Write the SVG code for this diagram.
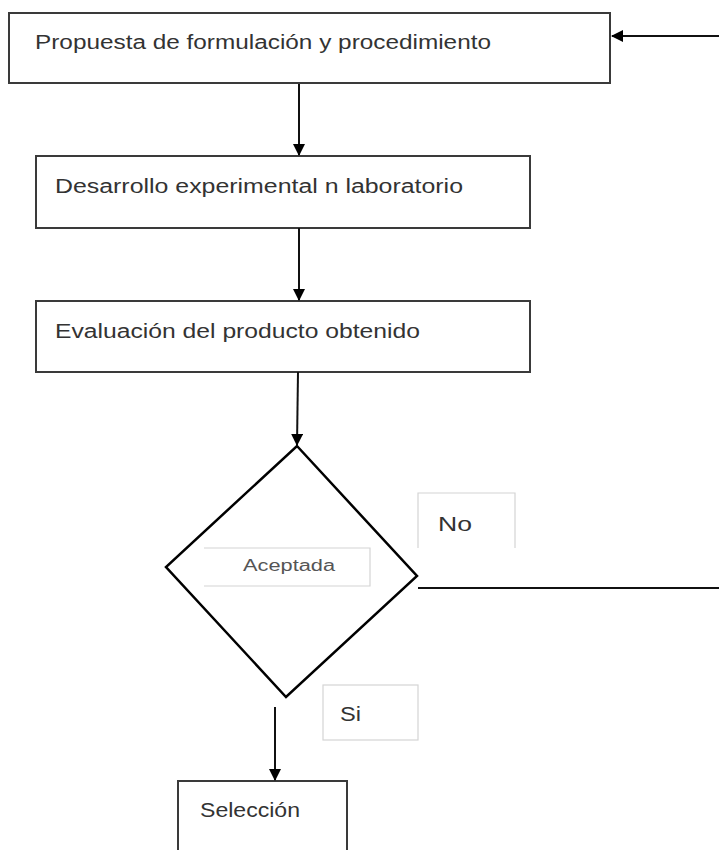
<svg xmlns="http://www.w3.org/2000/svg" width="719" height="850" viewBox="0 0 719 850">
<defs>
<style>
.box{fill:#fff;stroke:#3a3a3a;stroke-width:2}
.lbl{fill:#fff;stroke:#d4d4d4;stroke-width:1.2}
.t{font-family:"Liberation Sans","Open Sans",sans-serif;fill:#333}
.ln{stroke:#111;stroke-width:2;fill:none}
</style>
<marker id="ah" markerWidth="12" markerHeight="12" refX="11" refY="6" orient="auto" markerUnits="userSpaceOnUse">
<path d="M0,0 L12,6 L0,12 Z" fill="#000"/>
</marker>
</defs>
<rect width="719" height="850" fill="#fff"/>
<g id="n1">
<rect class="box" x="9" y="13" width="601" height="70"/>
<text class="t" x="35" y="49" font-size="20" textLength="456" lengthAdjust="spacingAndGlyphs">Propuesta de formulación y procedimiento</text>
</g>
<g id="n2">
<rect class="box" x="36" y="156" width="494" height="72"/>
<text class="t" x="55" y="193" font-size="20" textLength="408" lengthAdjust="spacingAndGlyphs">Desarrollo experimental n laboratorio</text>
</g>
<g id="n3">
<rect class="box" x="36" y="301" width="494" height="71"/>
<text class="t" x="55" y="338" font-size="20" textLength="365" lengthAdjust="spacingAndGlyphs">Evaluación del producto obtenido</text>
</g>
<g id="decision">
<polygon points="297,446 417,576 286,697 166,567" fill="#fff" stroke="#000" stroke-width="2.5"/>
<path class="lbl" d="M204,548 H370 V586 H204" fill="none"/>
<text class="t" x="243" y="571" font-size="16" style="fill:#555" textLength="92" lengthAdjust="spacingAndGlyphs">Aceptada</text>
</g>
<g id="lblNo">
<path class="lbl" d="M418,548 V493 H515 V548" fill="none"/>
<text class="t" x="438" y="531" font-size="20" textLength="34" lengthAdjust="spacingAndGlyphs">No</text>
</g>
<g id="lblSi">
<rect class="lbl" x="323" y="685" width="95" height="55"/>
<text class="t" x="340" y="721" font-size="20" textLength="21" lengthAdjust="spacingAndGlyphs">Si</text>
</g>
<g id="n4">
<rect class="box" x="178" y="781" width="169" height="80"/>
<text class="t" x="200" y="817" font-size="20" textLength="100" lengthAdjust="spacingAndGlyphs">Selección</text>
</g>
<g id="connectors">
<line class="ln" x1="299" y1="84" x2="299" y2="155" marker-end="url(#ah)"/>
<line class="ln" x1="299" y1="228" x2="299" y2="300" marker-end="url(#ah)"/>
<line class="ln" x1="298" y1="372" x2="297" y2="445" marker-end="url(#ah)"/>
<line class="ln" x1="418" y1="588" x2="719" y2="588" stroke-width="1.5"/>
<line class="ln" x1="719" y1="36" x2="612" y2="36" stroke="#555" marker-end="url(#ah)"/>
<line class="ln" x1="275" y1="707" x2="275" y2="780" marker-end="url(#ah)"/>
</g>
</svg>
